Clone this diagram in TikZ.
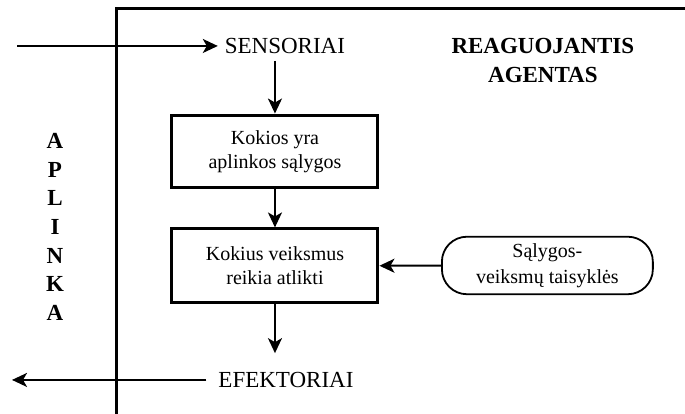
\documentclass[tikz,border=0pt]{standalone}
\usepackage{fontspec}
\setmainfont{Liberation Serif}
\usetikzlibrary{arrows.meta}

\begin{document}
\begin{tikzpicture}[
  block/.style={draw,line width=1.5pt,minimum width=3.62cm,minimum height=1.28cm,align=center,font=\fontsize{10}{12}\selectfont},
  arr/.style={-{Stealth[length=7.5pt,width=7pt,inset=2pt]},line width=1pt},
  big/.style={font=\fontsize{11.5}{13}\selectfont}
]
  \useasboundingbox (0,0) rectangle (12.04,-7.275);
  % agento riba
  \draw[line width=1.5pt] (2.047,-7.275) -- (2.047,-0.141) -- (12.04,-0.141);

  \node[font=\bfseries\fontsize{11.5}{14.35}\selectfont,align=center](aplinka) at (0.967,-3.989) {A\\P\\L\\I\\N\\K\\A};
  \node[font=\bfseries\fontsize{11.5}{14.5}\selectfont,align=center](agentas) at (9.542,-1.072) {REAGUOJANTIS\\AGENTAS};

  \node[big](sens) at (5.008,-0.808) {SENSORIAI};
  \coordinate (in) at (0.299,-0.808);
  \node[block](salygos) at (4.833,-2.662) {Kokios yra\\aplinkos sąlygos};
  \node[block,minimum height=1.30cm](veiksmai) at (4.833,-4.674) {Kokius veiksmus\\reikia atlikti};
  \node[big](efek) at (5.026,-6.678) {EFEKTORIAI};
  \coordinate (out) at (0.211,-6.678);
  \node[draw,line width=0.9pt,rounded corners=0.44cm,minimum width=3.708cm,minimum height=0.896cm,align=center,font=\fontsize{10}{13}\selectfont](taisykles) at (9.621,-4.666) {Sąlygos-\\veiksmų taisyklės};

  \draw[arr] (in) -- (sens);
  \draw[arr] (sens.south -| salygos.north) -- (salygos.north);
  \draw[arr] (salygos) -- (veiksmai);
  \draw[arr,shorten >=6pt] (veiksmai) -- (veiksmai.south |- efek.north);
  \draw[arr,shorten <=2.5pt] (efek) -- (out);
  \draw[arr] (taisykles) -- (veiksmai);
\end{tikzpicture}
\end{document}
